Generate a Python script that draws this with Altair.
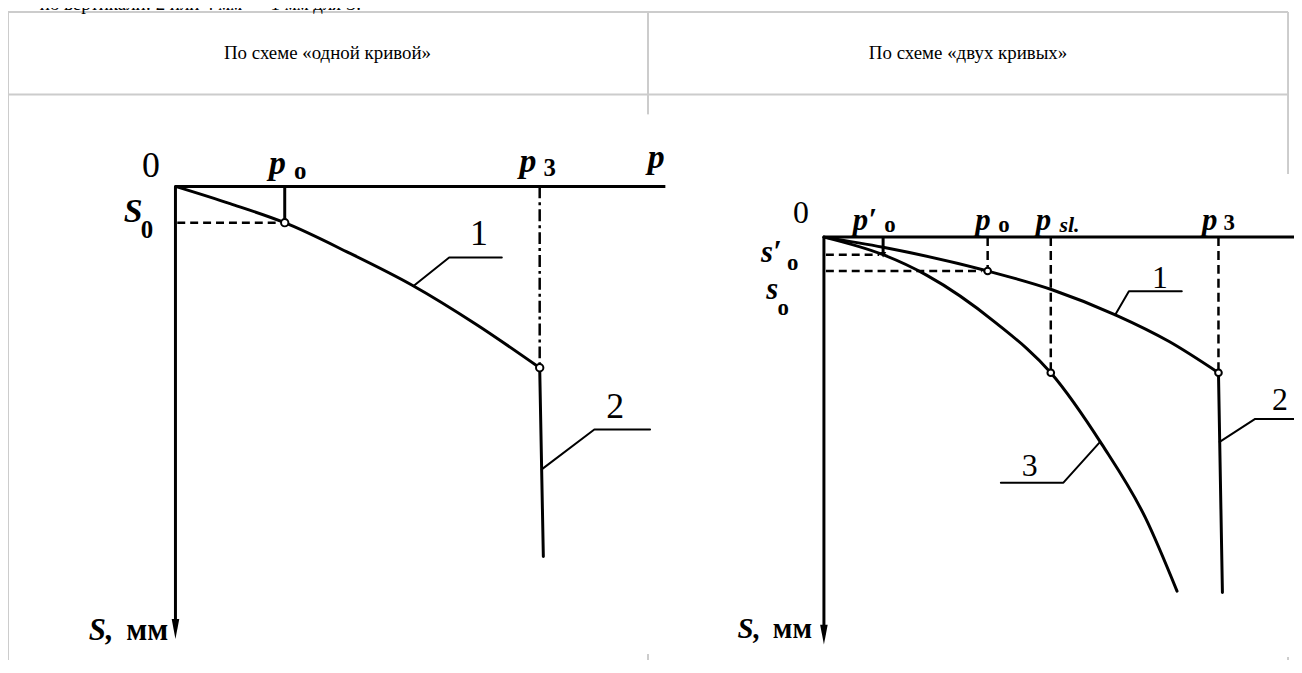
import altair as alt
import pandas as pd

W, H = 1294, 652

TOP_NOTE = "по вертикали: 2 или 4 мм — 1 мм для S."
HEAD_LEFT = "По схеме «одной кривой»"
HEAD_RIGHT = "По схеме «двух кривых»"

# ---------------- left diagram: scheme of "one curve" ----------------
L_CURVE1_P = [0, 30, 60, 95, 130, 165, 200]
L_CURVE1_S = [0, 0.95, 2.0, 3.65, 5.45, 7.6, 10.0]
L_CURVE2_P = [200, 202]
L_CURVE2_S = [10.0, 20.4]
L_P0, L_S0 = 60, 2.0
L_P3, L_S3 = 200, 10.0
L_P_END, L_S_END = 269, 24.4

L_LEAD1_P = [130.7, 150.3, 179.2]
L_LEAD1_S = [5.49, 3.92, 3.92]
L_LEAD2_P = [201.1, 230.0, 260.6]
L_LEAD2_S = [15.6, 13.4, 13.4]

L_ITAL_T = ["p", "p", "p", "S"]
L_ITAL_P = [56.0, 193.5, 263.9, -23.2]
L_ITAL_S = [-1.23, -1.34, -1.56, 1.40]
L_SUB_T = ["o", "3", "0"]
L_SUB_P = [68.5, 205.5, -15.6]
L_SUB_S = [-0.85, -1.01, 2.38]
L_NUM_T = ["0", "1", "2"]
L_NUM_P = [-13.4, 166.7, 241.5]
L_NUM_S = [-1.12, 2.60, 12.14]

# ---------------- right diagram: scheme of "two curves" ----------------
R_CURVE1_P = [0, 30, 83, 116, 148, 175, 200]
R_CURVE1_S = [0, 0.75, 2.5, 3.9, 5.75, 7.7, 10.0]
R_CURVE3_P = [0, 30, 52, 87, 115, 141, 163, 179]
R_CURVE3_S = [0, 1.3, 2.8, 6.3, 10.0, 15.3, 20.7, 26.1]
R_CURVE2_P = [200, 202]
R_CURVE2_S = [10.0, 26.2]
R_P0P, R_S0P = 30, 1.3
R_P0, R_S0 = 83, 2.5
R_PSL, R_SSL = 115, 10.0
R_P3, R_S3 = 200, 10.0
R_P_END, R_S_END = 240, 29.3

R_LEAD1_P = [147.6, 154.6, 181.4]
R_LEAD1_S = [5.75, 4.0, 4.0]
R_LEAD3_P = [140.0, 121.4, 89.7]
R_LEAD3_S = [15.1, 18.1, 18.1]
R_LEAD2_P = [200.6, 218.6, 240.0]
R_LEAD2_S = [15.1, 13.4, 13.4]

R_ITAL_T = ["p′", "p", "p", "p", "s′", "s"]
R_ITAL_P = [20.7, 80.6, 111.3, 195.5, -26.7, -26.2]
R_ITAL_S = [-1.21, -1.21, -1.21, -1.21, 1.21, 3.9]
R_SUB_T = ["o", "o", "3", "o", "o"]
R_SUB_P = [33.5, 91.2, 205.5, -15.8, -20.7]
R_SUB_S = [-0.92, -0.92, -1.06, 1.94, 5.2]
R_SUBI_T = ["sl."]
R_SUBI_P = [124.5]
R_SUBI_S = [-0.92]
R_NUM_T = ["0", "1", "3", "2"]
R_NUM_P = [-11.6, 170.3, 104.3, 231.2]
R_NUM_S = [-1.79, 3.04, 16.9, 11.98]

FONT = "Liberation Serif"
GRID = "#cccccc"
ONE = pd.DataFrame({"k": [0]})

LX = alt.Scale(domain=[0, L_P3], range=[168.5, 535.0], nice=False, zero=False)
LY = alt.Scale(domain=[0, L_S3], range=[177.5, 360.0], nice=False, zero=False)
RX = alt.Scale(domain=[0, R_P3], range=[821.0, 1218.0], nice=False, zero=False)
RY = alt.Scale(domain=[0, R_S3], range=[228.5, 365.0], nice=False, zero=False)


def segs(rows, xs, ys, width=3, dash=None):
    df = pd.DataFrame(rows, columns=["x1", "x2", "y1", "y2"])
    kw = dict(color="black", strokeWidth=width)
    if dash:
        kw["strokeDash"] = dash
    return alt.Chart(df).mark_rule(**kw).encode(
        x=alt.X("x1:Q", scale=xs, axis=None), x2="x2:Q",
        y=alt.Y("y1:Q", scale=ys, axis=None), y2="y2:Q")


def curve(p, s, xs, ys, interp="monotone", width=3):
    df = pd.DataFrame({"p": p, "s": s, "k": range(len(p))})
    return alt.Chart(df).mark_line(color="black", strokeWidth=width, interpolate=interp,
                                   strokeCap="round", strokeJoin="round").encode(
        x=alt.X("p:Q", scale=xs, axis=None), y=alt.Y("s:Q", scale=ys, axis=None),
        order="k:Q")


def open_pts(p, s, xs, ys, size=55):
    df = pd.DataFrame({"p": p, "s": s})
    return alt.Chart(df).mark_point(shape="circle", filled=True, fill="white", stroke="black",
                                    strokeWidth=2, size=size, opacity=1).encode(
        x=alt.X("p:Q", scale=xs, axis=None), y=alt.Y("s:Q", scale=ys, axis=None))


def arrow(p, s, xs, ys):
    df = pd.DataFrame({"p": [p], "s": [s]})
    return alt.Chart(df).mark_point(shape="M-0.38,-1L0.38,-1L0,1Z", filled=True, color="black",
                                    size=400, opacity=1).encode(
        x=alt.X("p:Q", scale=xs, axis=None), y=alt.Y("s:Q", scale=ys, axis=None))


def texts(t, p, s, xs, ys, size, style="normal", weight="normal", align="center"):
    df = pd.DataFrame({"t": t, "p": p, "s": s})
    return alt.Chart(df).mark_text(font=FONT, fontSize=size, fontStyle=style, fontWeight=weight,
                                   align=align, baseline="middle", color="black").encode(
        x=alt.X("p:Q", scale=xs, axis=None), y=alt.Y("s:Q", scale=ys, axis=None), text="t:N")


def hline(x1, x2, y):
    return alt.Chart(ONE).mark_rule(color=GRID, strokeWidth=2).encode(
        x=alt.value(x1), x2=alt.value(x2), y=alt.value(y))


def vline(x, y1, y2):
    return alt.Chart(ONE).mark_rule(color=GRID, strokeWidth=2).encode(
        x=alt.value(x), y=alt.value(y1), y2=alt.value(y2))


def vtext(txt, x, y, size, align="center"):
    return alt.Chart(ONE).mark_text(font=FONT, fontSize=size, align=align, baseline="middle",
                                    color="black").encode(
        x=alt.value(x), y=alt.value(y), text=alt.value(txt))


table = alt.layer(
    hline(0, 1288, 2), hline(0, 1288, 85),
    vline(0, 2, 665), vline(644, 2, 105), vline(644, 648, 665),
    vline(1288, 2, 165), vline(1288, 651, 665),
    vtext(HEAD_LEFT, 321.5, 43.5, 19), vtext(HEAD_RIGHT, 966, 43.5, 19),
    vtext(TOP_NOTE, 32, -6, 19, align="left"),
)

left = alt.layer(
    segs([[0, L_P_END, 0, 0]], LX, LY),
    segs([[0, 0, 0, L_S_END]], LX, LY),
    segs([[L_P0, L_P0, 0, L_S0]], LX, LY),
    segs([[1, L_P0 - 3, L_S0, L_S0]], LX, LY, width=2.5, dash=[8, 5]),
    segs([[L_P3, L_P3, 0, L_S3]], LX, LY, width=2.5, dash=[12, 4, 3, 4]),
    curve(L_CURVE1_P, L_CURVE1_S, LX, LY),
    curve(L_CURVE2_P, L_CURVE2_S, LX, LY, interp="linear"),
    curve(L_LEAD1_P, L_LEAD1_S, LX, LY, interp="linear", width=2),
    curve(L_LEAD2_P, L_LEAD2_S, LX, LY, interp="linear", width=2),
    open_pts([L_P0, L_P3], [L_S0, L_S3], LX, LY),
    arrow(0, L_S_END, LX, LY),
    texts(L_ITAL_T, L_ITAL_P, L_ITAL_S, LX, LY, 34, style="italic", weight="bold"),
    texts(L_SUB_T, L_SUB_P, L_SUB_S, LX, LY, 25, weight="bold"),
    texts(L_NUM_T, L_NUM_P, L_NUM_S, LX, LY, 36),
    texts(["S,"], [-34.0], [L_S_END + 0.1], LX, LY, 31, style="italic", weight="bold", align="right"),
    texts(["мм"], [-4.0], [L_S_END + 0.1], LX, LY, 31, weight="bold", align="right"),
)

right = alt.layer(
    segs([[0, R_P_END, 0, 0]], RX, RY),
    segs([[0, 0, 0, R_S_END]], RX, RY),
    segs([[R_P0P, R_P0P, 0, R_S0P]], RX, RY),
    segs([[1, R_P0P - 2, R_S0P, R_S0P], [1, R_P0 - 3, R_S0, R_S0]], RX, RY, width=2.5, dash=[8, 5]),
    segs([[R_P0, R_P0, 0, R_S0], [R_PSL, R_PSL, 0, R_SSL], [R_P3, R_P3, 0, R_S3]], RX, RY,
         width=2.5, dash=[9, 5]),
    curve(R_CURVE1_P, R_CURVE1_S, RX, RY),
    curve(R_CURVE3_P, R_CURVE3_S, RX, RY),
    curve(R_CURVE2_P, R_CURVE2_S, RX, RY, interp="linear"),
    curve(R_LEAD1_P, R_LEAD1_S, RX, RY, interp="linear", width=2),
    curve(R_LEAD3_P, R_LEAD3_S, RX, RY, interp="linear", width=2),
    curve(R_LEAD2_P, R_LEAD2_S, RX, RY, interp="linear", width=2),
    open_pts([R_P0, R_PSL, R_P3], [R_S0, R_SSL, R_S3], RX, RY, size=45),
    alt.Chart(pd.DataFrame({"p": [R_P0P], "s": [R_S0P]})).mark_point(
        shape="triangle-down", filled=True, color="black", size=40, opacity=1).encode(
        x=alt.X("p:Q", scale=RX, axis=None), y=alt.Y("s:Q", scale=RY, axis=None)),
    arrow(0, R_S_END, RX, RY),
    texts(R_ITAL_T, R_ITAL_P, R_ITAL_S, RX, RY, 31, style="italic", weight="bold"),
    texts(R_SUB_T, R_SUB_P, R_SUB_S, RX, RY, 23, weight="bold"),
    texts(R_SUBI_T, R_SUBI_P, R_SUBI_S, RX, RY, 22, style="italic", weight="bold"),
    texts(R_NUM_T, R_NUM_P, R_NUM_S, RX, RY, 32),
    texts(["S,"], [-32.0], [R_S_END - 0.4], RX, RY, 29, style="italic", weight="bold", align="right"),
    texts(["мм"], [-6.0], [R_S_END - 0.4], RX, RY, 29, weight="bold", align="right"),
)

mask = alt.Chart(ONE).mark_rect(color="white").encode(
    x=alt.value(662), x2=alt.value(700), y=alt.value(130), y2=alt.value(172))

chart = alt.layer(table, left, mask, right).resolve_scale(
    x="independent", y="independent"
).properties(width=W, height=H, autosize="none", padding=0).configure_view(stroke=None)

chart.save("out.html", embed_options={"renderer": "svg", "actions": False})
